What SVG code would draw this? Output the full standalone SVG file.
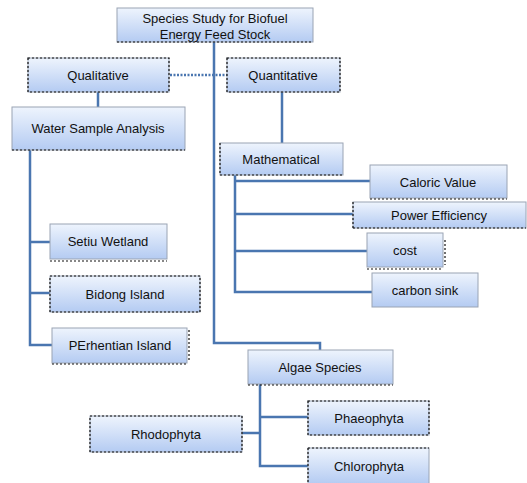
<svg xmlns="http://www.w3.org/2000/svg" width="527" height="483" viewBox="0 0 527 483">
<defs>
<linearGradient id="g" x1="0" y1="0" x2="0" y2="1">
<stop offset="0" stop-color="#eef4fd"/>
<stop offset="1" stop-color="#b4cbf2"/>
</linearGradient>
</defs>
<style>
.box{fill:url(#g);stroke:#9aa4b4;stroke-width:1}
.dot{fill:none;stroke:#111;stroke-width:1.2;stroke-dasharray:2 2}
.t{font-family:"Liberation Sans",Arial,sans-serif;font-size:13px;fill:#111;text-anchor:middle;dominant-baseline:central}
.c{fill:none;stroke:#4a76b0;stroke-width:2.5}
</style>
<g id="connectors">
<path class="c" d="M214 42 V343 H320 V350" stroke-width="3.5"/>
<path class="c" d="M170 75 H227" stroke-dasharray="2 1.5" stroke-width="3"/>
<path class="c" d="M98 92 V107"/>
<path class="c" d="M282 92 V143"/>
<path class="c" d="M30 150 V345 H52 M30 242 H50 M30 293 H50"/>
<path class="c" d="M235 175 V292 H372 M235 181 H370 M235 214 H353 M235 251 H367"/>
<path class="c" d="M260 384 V466 H308 M260 417 H308 M260 433 H242"/>
</g>
<g id="n-title"><rect class="box" x="117" y="8" width="196" height="34"/><path class="dot" d="M117 42 H313"/><text class="t" x="215" y="18">Species Study for Biofuel</text><text class="t" x="215" y="34">Energy Feed Stock</text></g>
<g id="n-qual"><rect class="box" x="28" y="58" width="141" height="34"/><rect class="dot" x="28" y="58" width="141" height="34"/><text class="t" x="98" y="75">Qualitative</text></g>
<g id="n-quan"><rect class="box" x="227" y="58" width="113" height="34"/><rect class="dot" x="227" y="58" width="113" height="34"/><text class="t" x="283" y="75">Quantitative</text></g>
<g id="n-water"><rect class="box" x="12" y="107" width="173" height="43"/><path class="dot" d="M12 150 H185"/><text class="t" x="98" y="128">Water Sample Analysis</text></g>
<g id="n-math"><rect class="box" x="220" y="143" width="123" height="32"/><path class="dot" d="M220 175 H343 M220 143 V175"/><text class="t" x="281" y="159">Mathematical</text></g>
<g id="n-cal"><rect class="box" x="370" y="165" width="137" height="33"/><path class="dot" d="M370 199 H507"/><text class="t" x="438" y="182">Caloric Value</text></g>
<g id="n-pow"><rect class="box" x="353" y="202" width="173" height="26"/><path class="dot" d="M353 228 H526 M353 202 V228"/><text class="t" x="439" y="215">Power  Efficiency</text></g>
<g id="n-cost"><rect class="box" x="367" y="233" width="76" height="34"/><path class="dot" d="M367 269 H443 M445 240 V265"/><text class="t" x="405" y="250">cost</text></g>
<g id="n-carbon"><rect class="box" x="372" y="273" width="106" height="34" stroke="#666"/><text class="t" x="425" y="290">carbon sink</text></g>
<g id="n-setiu"><rect class="box" x="50" y="224" width="117" height="35"/><path class="dot" d="M50 261 H167"/><text class="t" x="108" y="241">Setiu Wetland</text></g>
<g id="n-bidong"><rect class="box" x="50" y="276" width="150" height="36"/><rect class="dot" x="50" y="276" width="150" height="36"/><text class="t" x="125" y="294">Bidong Island</text></g>
<g id="n-perh"><rect class="box" x="52" y="328" width="135" height="35"/><path class="dot" d="M52 364 H187 M189 330 V360"/><text class="t" x="120" y="345">PErhentian Island</text></g>
<g id="n-algae"><rect class="box" x="248" y="350" width="145" height="34"/><path class="dot" d="M248 385 H393"/><text class="t" x="320" y="367" font-size="17">Algae Species</text></g>
<g id="n-phaeo"><rect class="box" x="308" y="401" width="121" height="34"/><rect class="dot" x="308" y="401" width="121" height="34"/><text class="t" x="369" y="418">Phaeophyta</text></g>
<g id="n-rhodo"><rect class="box" x="90" y="416" width="152" height="36"/><rect class="dot" x="90" y="416" width="152" height="36"/><text class="t" x="166" y="434">Rhodophyta</text></g>
<g id="n-chloro"><rect class="box" x="308" y="448" width="121" height="36"/><path class="dot" d="M308 448 H429 M308 448 V483"/><text class="t" x="369" y="466">Chlorophyta</text></g>
</svg>
